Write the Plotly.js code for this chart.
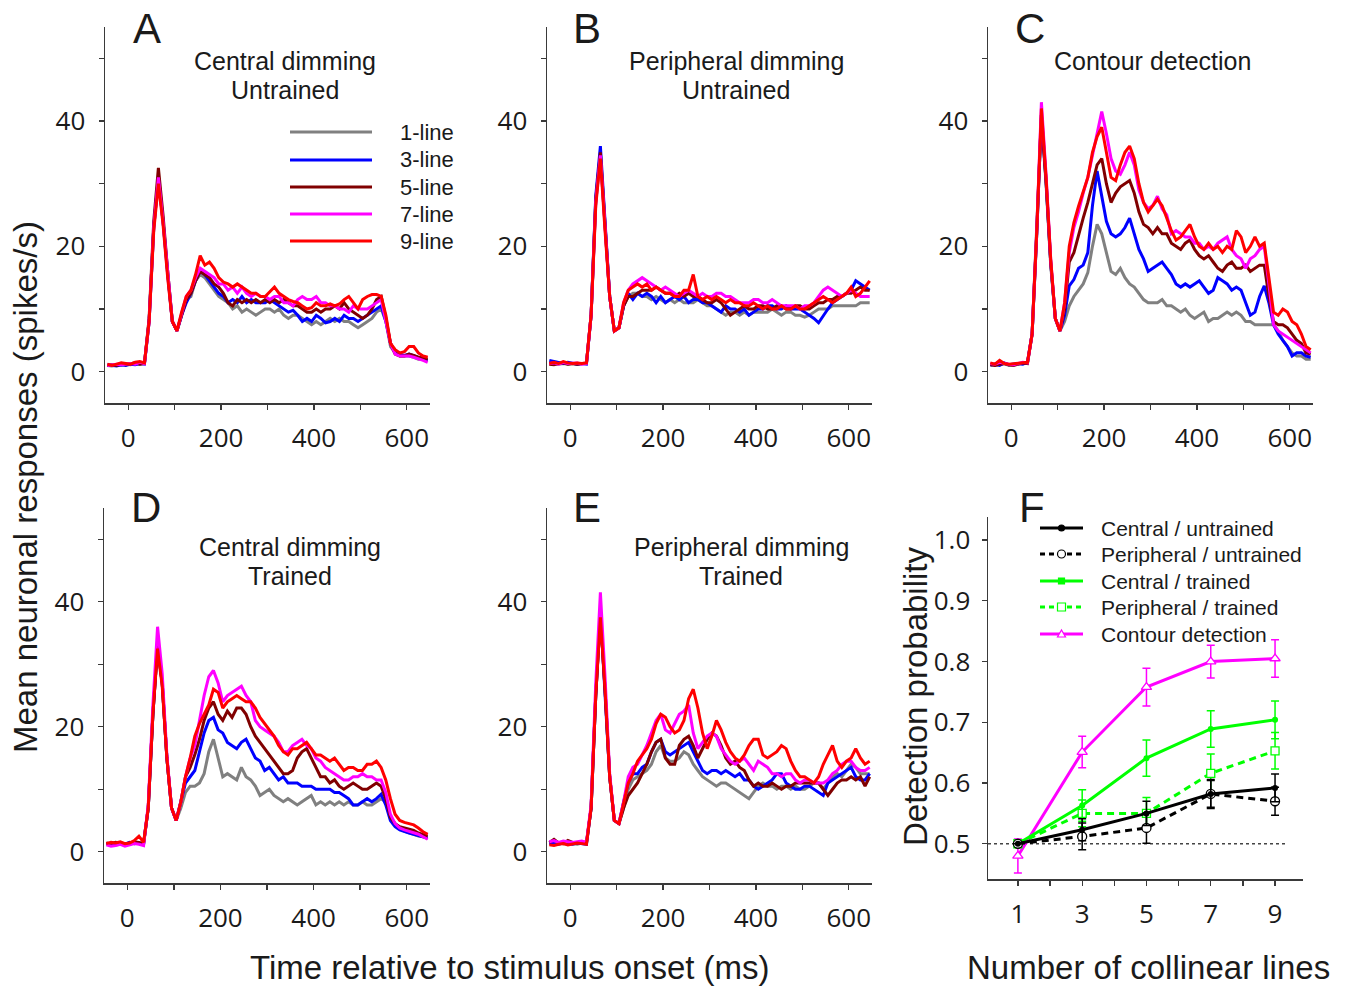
<!DOCTYPE html>
<html><head><meta charset="utf-8">
<script src="https://cdn.plot.ly/plotly-3.0.1.min.js"></script>
<style>html,body{margin:0;padding:0;background:#fff;} #chart{width:1350px;height:987px;}</style>
</head><body><div id="chart"></div>
<script>
// ---------- DATA ----------
const timeMs = [-45,-35,-25,-15,-5,5,15,25,35,45,55,65,75,85,95,105,115,125,135,145,155,165,175,185,195,205,215,225,235,245,255,265,275,285,295,305,315,325,335,345,355,365,375,385,395,405,415,425,435,445,455,465,475,485,495,505,515,525,535,545,555,565,575,585,595,605,615,625,635,645];
const lineLabels = ['1-line','3-line','5-line','7-line','9-line'];

// Panel A: central dimming, untrained
const A_1line = [1.0,0.9,1.1,1.0,1.2,1.1,1.3,1.2,1.4,8,23,31,24,15.5,8,6.5,9,11.5,12,14.5,15.5,15,14,13,12,11.5,11,10,10.5,9.5,10,9.5,9,9.5,10,10,9.5,10,9,8.5,9,9,8.5,8,7.5,8,7.5,8,8.5,8,8.5,8,8,7.5,7,7.5,8,8.5,9.5,10,8,4,3,2.5,2.5,2.5,2.3,2,2,1.8];
const A_3line = [1.1,1.0,0.9,1.1,1.0,1.2,1.1,1.3,1.2,8,23,31,24,15.5,8,6.5,9,11,12.5,14.5,16,15.5,14.5,13.5,12.5,12,11,11.5,11,12,11,11.5,11,11,11,11.5,11,10.5,10,9.5,9.8,9,8,8.5,8,9,8.5,7.8,8,8.5,8,9,8.5,8.5,8,8.5,9,9.5,10,10.5,8,4.5,3,2.8,2.6,2.8,2.5,2.3,2,1.8];
const A_5line = [1.0,1.1,1.0,1.2,1.1,1.3,1.4,1.2,1.3,8.5,24,32.5,25,16,8,6.5,9,11.5,12.5,14.5,16,15.5,15,14,13.5,12.5,11,10.5,11.5,11,11.5,11,11.5,11,11.5,11,11.5,11,11.5,11,10.5,10.5,10,9.5,9.5,10,9.5,10,10,10.5,10,11,10,9.5,9,8.5,9,10,11.5,12,8.5,4.5,2.8,2.5,2.5,2.8,2.6,2.3,2.2,2];
const A_7line = [1.0,1.1,1.2,1.1,1.2,1.3,1.2,1.5,1.3,8,23,31,24,15.5,8,6.5,9.5,12,13,15,16.5,16,15.5,15,14,14,13,13.5,12.5,13.5,12.5,12,12.5,12,12,11.5,12,12,11,11,10.5,11.5,12,11.5,11.5,12,11,11,10.5,10.5,10,10,9.5,10.5,10,10,10,10.5,11,11.5,8,4.5,2.8,2.5,2.5,2.5,2.3,2.1,1.8,1.5];
const A_9line = [1.2,1.0,1.2,1.4,1.3,1.2,1.5,1.6,1.4,8,22.5,30,23.5,15,8,6.5,9.5,12,13,15.5,18.5,17,17.5,16.5,15,14.3,14,13.5,14,13.5,13,12.5,12.5,12,12,12.8,13.5,12.5,12,11.5,11.2,11,10.5,10,10.2,11,10.5,10.5,10.8,10.5,10.8,11.5,12,11,10,11.5,12,12.3,12.3,12,9,4.5,3.5,3,3.2,4,4,3,2.5,2.3];

// Panel B: peripheral dimming, untrained
const B_1line = [1.4,1.3,1.2,1.3,1.2,1.3,1.2,1.3,1.3,9,27,34.5,23,12,6.5,7,10.5,12,12.5,12.5,12,12,11.5,12,11.5,11,11.5,11,11.5,11,11,11,11.5,11,10.5,10.5,10,9.5,9,9.5,9.5,9,9.5,9,9.5,9.5,9.5,9.5,10,9.5,9,9.5,9.5,9,9,8.7,9,9.5,10,10,10,10.5,10.5,10.5,10.5,10.5,10.5,11,11,11];
const B_3line = [1.8,1.6,1.4,1.3,1.5,1.3,1.2,1.3,1.2,9,28,36,24,12,6.5,7,10.5,12.5,11.5,12.5,12,12.5,12,11,12,11,11.5,12,11.5,12,11,11.5,11.5,11,11,10.5,10,9.5,10.5,10,10,9.5,10,9,9.5,10,10,10.5,10.5,10,10,10.5,10,10,10,9.5,9,8.5,7.8,9,10,11,11.5,12,12.5,13,14.5,14,13.5,13];
const B_5line = [1.2,1.1,1.3,1.4,1.2,1.3,1.2,1.3,1.4,9,27.5,35,23.5,12,6.5,7,10.5,12,12,12.5,13,13,13,13.5,13,12.5,12.5,12,12.5,12,12.5,12,12,11.5,11,11,11.5,11,10,9,9.5,10,10.5,10,10,10.5,10.5,10,10,10.5,10.5,10,10,10.5,10.5,10,10,10.5,11,11,11.5,11.5,12,12,12.5,12.5,13,13.5,13,13];
const B_7line = [1.3,1.4,1.2,1.5,1.3,1.3,1.4,1.2,1.3,9,27,34.5,23,12,6.5,7,11,13,14,14.5,15,14.5,14,13.5,13,13.5,13,12.5,12,12.5,13,12.5,12,12.5,12,12,12.5,12.5,12,12,11.5,11,11,11,11.5,11.5,11,11,11.5,11,10.5,10.5,10.5,10.5,10,10.5,10.5,11,12,13,13.5,13,12.5,12,12.5,13,12.5,12,12,12];
const B_9line = [1.3,1.5,1.3,1.6,1.4,1.3,1.4,1.3,1.4,9,26.5,34,22.5,12,6.5,7,11,13,13.5,14,13.5,14,13,13.5,13,12.5,12.5,12,12,13,13,15.5,12,11.5,12,11.5,12,11.5,11,11.5,11,11,10.5,10.5,11,10.5,10,10.5,10,10,10.5,10,10,10.5,10,10,10.5,11,11.5,12,11.5,11,11.5,12,12.5,13.5,12,12.5,13.5,14.5];

// Panel C: contour detection
const C_1line = [1.2,1.0,1.1,1.3,1.0,1.1,1.2,1.3,1.4,6,22,40.5,30,17,8.5,6.5,8,10.5,12,13,14,15.8,20,23.5,22,19,16,15.5,16.5,15,14,13.5,12.5,11.5,11,11,11,11.5,10.5,10.5,10,9.5,10,9,8.5,9,9.5,8,8.5,8.5,9,9.5,9,9.5,9,8,8,7.5,7.5,7.5,7.5,7.5,6.5,5,4,3,2.5,2.5,2,2];
const C_3line = [1.0,1.2,1.0,1.4,1.1,1.2,1.3,1.2,1.5,6,22,41,30.5,17.5,8.5,6.5,9,13.7,14.7,16.5,17,19,26.5,32,28,24,22,21.5,22,23,24.5,22,19.5,18,16,16.5,17,17.5,16.5,15.5,14,13.5,14,13.5,14,14.5,13.5,12.5,13,15,14.5,14,13,13.5,13,11,9,9.5,12,13.7,11,7.5,6,5,4,2.5,3,3,2.5,2.3];
const C_5line = [1.1,1.0,1.2,1.3,1.1,1.0,1.2,1.4,1.3,6,22,41,30.5,17.5,8.5,6.5,10,17.5,19,22,24.5,27,30,33,34,30,27,28.5,29.5,30,30.5,28.5,25.5,23.5,23,22,23,22,22,20.5,20,19.5,20.5,21,19.5,18.5,18,18.5,17.5,16.5,16,17,17.5,16.5,16.5,17,16,16.5,17,17,12,8,7.5,7.5,7,6,5,4.5,3,2.8];
const C_7line = [1.3,1.2,1.5,1.3,1.2,1.1,1.3,1.5,1.4,6,22.5,43,31.5,18,8.5,6.5,11,19,23,25.5,28.5,31,34.5,38,41.5,38,34,32,31.5,33,35,33,29,27,26,26.5,28,26,25,22,22.5,22,21.5,21.5,20.5,20.5,19.5,20,19.5,20.5,21,21.5,19.5,18.5,18,16.5,18,18.5,19.5,20,14,7.5,6.5,6,5.5,5,4.5,4,3.5,3];
const C_9line = [1.4,1.2,1.8,1.3,1.2,1.3,1.4,1.5,1.5,6,22.5,42,31,18,8.5,6.5,11,20,23.8,26.4,28.7,31,35,37.5,39,35,31,30.5,33,35,36,34,30,27,25.5,26.5,27.5,26.5,24.5,22.5,21,21.5,22.5,23.5,21.5,20,19.5,20.5,19.5,20,19,20,19.5,22.5,21.5,19,20,21.5,20,20.5,15,9.5,9,10,9.5,8,7.5,6,4,3.5];

// Panel D: central dimming, trained
const D_1line = [1.2,1.3,1.1,1.2,1.3,1.2,1.4,1.3,1.2,7,22,33,27,15,7,5,7,9.5,10.5,10.5,11,12.5,16,18,15,12,12.5,12,11.5,13.5,12,11.5,10.5,9,9.5,10,9,8.5,8,8.5,8,7.5,8,8.5,9,7.5,8,7.5,8,7.5,8,7.5,8,7.5,7.5,8,7.5,7.5,8,8.5,8,5.5,4.5,3.8,3.3,3,2.8,2.5,2.4,2.2];
const D_3line = [1.3,1.2,1.4,1.3,1.2,1.5,1.3,1.4,1.3,7,22,33,27,15,7,5,8,11,12,13,16,19,21,21.5,19.5,19,17.5,17,16.5,17.5,18,16.5,15,14.5,13,13.5,12.5,11.5,12,11,11,11,10.5,10.5,10.5,10,10,10,10,9.5,9.5,9,8.5,7.5,7.5,8,8.5,8,8.5,9.2,7.5,5,4,3.5,3.2,3,2.8,2.6,2.4,2.2];
const D_5line = [1.4,1.3,1.5,1.4,1.2,1.4,1.6,1.5,1.3,7,22,33,27,15,7,5,8,12,13.5,15.5,18,21,23,24,22,21,22.5,21.5,23,23,22,20,18.5,17.5,16.5,15.5,14.5,13.5,12.5,12.5,13,15,16,16.5,15,13.5,12,12,11,11.5,10.5,10,10.5,11,10.5,10,10,10.5,11,10.5,8.5,5.5,4.5,4,3.8,3.6,3.4,3,2.7,2.5];
const D_7line = [1.1,0.9,1.0,1.2,0.9,1.1,1.3,1.2,1.0,7.5,23.5,36,28.5,15.5,7,5,8,12,15,17,21,25,28,29,27,24,25,25.5,26,26.5,25,24,21,20,19.5,19,18.5,17.5,16,16,17,17.5,18,17,16.5,15,14.5,13.5,13,12.5,12,11.5,11.5,12,12,12.5,12,12,11.5,11.5,9.5,6,4.5,3.8,3.5,3.3,3,2.8,2.4,2];
const D_9line = [1.3,1.5,1.4,1.6,1.3,1.4,1.8,2.5,1.5,7,22,32.5,26.5,15,7,5,8,12,15,18.5,20.5,22,23.5,26,25.5,23,24,24.5,25,24.5,24,24,23,21.5,20.5,19.5,18.5,17,16,15.5,16.5,16.5,17,17.5,16.5,15.5,15.5,15,14.5,15,14,13,13.5,13.5,13,13,14,14,14.5,13.5,11.5,8.5,6,5,4.7,4.5,4.3,3.8,3.2,2.8];

// Panel E: peripheral dimming, trained
const E_1line = [1.3,1.2,1.4,1.3,1.2,1.3,1.2,1.4,1.3,7,25,38,26,12,5,4.5,7,10,11.5,12,12.5,13,14,16,17,15,14.5,14.5,15,16,15.5,14,13,12,11.5,11,10.5,11,11,10.5,10,9.5,9,8.5,9.5,10.5,11,10.5,10.5,10,10.5,10.5,10,10.5,10,10,10.5,11,11,10,11,12,12.5,12,13,14,13.5,12.5,12.5,12.5];
const E_3line = [1.4,1.3,1.2,1.4,1.3,1.2,1.4,1.3,1.2,7,25,38.5,26,12,5,4.5,8,11,12.5,12.5,13.5,14,16,17.5,18,16,15.5,16,16.5,17,17.5,16,14.5,13,12.5,13,13,12.5,13,12.5,12,12.5,11.5,11.5,10.5,10,10.5,11,11.5,12.5,12.5,11,10.5,10,10,10.5,10.5,10,9.5,9,11,11.5,12,12.5,13,13.5,12,11.5,11.5,12.5];
const E_5line = [1.5,2.0,1.4,1.3,1.8,1.5,1.4,1.6,1.5,7,25,38,26,12,5,4.5,7,9,10,11,12.5,14,16,17.5,18,15,14,14,17,18,18.5,17,15,16.5,18,19,18.5,17,15,14,14.5,13.5,13,11.5,10.5,11,10.5,10.5,11,10.5,10,10.5,10.5,11,11,11,11,11,11,10,9,10,11,11.5,11.5,12,11.5,12,10.5,12];
const E_7line = [1.6,1.8,1.5,1.7,1.6,1.5,1.6,1.7,1.5,7.5,27,41.5,28,12.5,5,4.5,8,12,13.5,14,15.5,17,19,21,22,19.5,19,20.5,22,22.5,23.5,19,16.5,17.5,18.5,19,18.5,16.5,15.5,14.5,14,14.5,15,14,13,14.5,14,13.5,12.5,12.5,12,12.5,12.5,11.5,11,11.5,11.5,11,11,11,11.5,12.5,13,14,14.5,14.5,13.5,13,13,13.5];
const E_9line = [1.1,1.0,1.2,1.3,1.1,1.2,1.4,1.3,1.2,7,25,37.5,26,12,5,4.5,8,11,12.5,14.5,15.5,16.5,18,20.5,22,21.5,20,19,19.5,21,24.5,26,23,19,16.5,18.5,21,19.5,17.5,16,15,14.5,15.5,17,18,18,15.5,15,15.5,16,17,16.5,14.5,13,12,12,11.5,11,12,14,15.5,17,14.5,13.5,14.5,15,16.5,15,14,14.5];

// Panel F: detection probability vs number of collinear lines
const collinearLines = [1,3,5,7,9];
const centralUntrained = [0.500,0.523,0.550,0.582,0.592];
const centralUntrainedErr = [0,0.018,0.020,0.024,0.023];
const peripheralUntrained = [0.500,0.512,0.526,0.582,0.570];
const peripheralUntrainedErr = [0,0.022,0.025,0.022,0.023];
const centralTrained = [0.500,0.563,0.641,0.689,0.704];
const centralTrainedErr = [0,0.026,0.030,0.030,0.031];
const peripheralTrained = [0.500,0.550,0.550,0.616,0.653];
const peripheralTrainedErr = [0,0.022,0.026,0.032,0.030];
const contourDetection = [0.480,0.651,0.758,0.800,0.805];
const contourDetectionErr = [0.028,0.026,0.031,0.027,0.031];
const chanceLevel = 0.5;
const fLegendLabels = ['Central / untrained','Peripheral / untrained','Central / trained','Peripheral / trained','Contour detection'];

// ---------- STYLE ----------
const W = 1350, H = 987;
const fx = p => p / W;
const fy = p => 1 - p / H;
const lineColors = ['#808080','#0000ff','#800000','#ff00ff','#ff0000'];
const GREEN = '#00ff00', MAG = '#ff00ff';
const AX = '#3a3a3a';
const TICKFONT = {family:'Open Sans, Liberation Sans, sans-serif', size:26, color:'#1a1a1a'};
const TXT = 'Liberation Sans, Arial, sans-serif';

const panels = [
  {key:'', series:[A_1line,A_3line,A_5line,A_7line,A_9line], x:[105,430], y:[27,403]},
  {key:'2', series:[B_1line,B_3line,B_5line,B_7line,B_9line], x:[547,872], y:[27,403]},
  {key:'3', series:[C_1line,C_3line,C_5line,C_7line,C_9line], x:[988,1313], y:[27,403]},
  {key:'4', series:[D_1line,D_3line,D_5line,D_7line,D_9line], x:[104,430], y:[508,883]},
  {key:'5', series:[E_1line,E_3line,E_5line,E_7line,E_9line], x:[547,872], y:[508,883]},
];

const traces = [];
const layout = {
  width: W, height: H, margin:{l:0,r:0,t:0,b:0},
  paper_bgcolor:'#fff', plot_bgcolor:'#fff', showlegend:false,
  annotations: [], shapes: []
};

function baseAxis(extra){
  return Object.assign({
    showline:true, linecolor:AX, linewidth:1.5, showgrid:false, zeroline:false,
    ticks:'outside', ticklen:5, tickwidth:1.3, tickcolor:AX, tickfont:TICKFONT,
    fixedrange:true
  }, extra);
}

panels.forEach(p => {
  const xa = 'x' + p.key, ya = 'y' + p.key;
  p.series.forEach((s, i) => {
    traces.push({x: timeMs, y: s, type:'scatter', mode:'lines', name: lineLabels[i],
      line:{color: lineColors[i], width: 3}, xaxis: xa, yaxis: ya, hoverinfo:'skip'});
  });
  layout['xaxis' + p.key] = baseAxis({domain:[fx(p.x[0]), fx(p.x[1])], anchor: ya, range:[-50,650],
    tick0:0, dtick:200, ticklabelstandoff:6,
    minor:{dtick:100, ticks:'outside', ticklen:5, tickwidth:1.3, tickcolor:AX, showgrid:false}});
  layout['yaxis' + p.key] = baseAxis({domain:[fy(p.y[1]), fy(p.y[0])], anchor: xa, range:[-5,55],
    tick0:0, dtick:20, ticklabelstandoff:8,
    minor:{dtick:10, ticks:'outside', ticklen:5, tickwidth:1.3, tickcolor:AX, showgrid:false}});
});

// Panel F
layout.xaxis6 = baseAxis({domain:[fx(988), fx(1303)], anchor:'y6', range:[0.07, 9.87], tick0:1, dtick:2,
  ticklabelstandoff:6, minor:{dtick:1, ticks:'outside', ticklen:5, tickwidth:1.3, tickcolor:AX, showgrid:false}});
layout.yaxis6 = baseAxis({domain:[fy(879), fy(517)], anchor:'x6', range:[0.442, 1.038], tick0:0.5, dtick:0.1,
  tickformat:'.1f', ticklabelstandoff:6});

function errBar(arr, color){ return {type:'data', array:arr, visible:true, color:color, thickness:1.5, width:4}; }
const dashPat = '7px,5px';
traces.push({x:collinearLines, y:contourDetection, error_y:errBar(contourDetectionErr, MAG), mode:'lines+markers',
  line:{color:MAG, width:3}, marker:{symbol:'triangle-up', size:9, color:'#fff', line:{color:MAG, width:1.3}},
  xaxis:'x6', yaxis:'y6', name:fLegendLabels[4], hoverinfo:'skip'});
traces.push({x:collinearLines, y:peripheralTrained, error_y:errBar(peripheralTrainedErr, GREEN), mode:'lines+markers',
  line:{color:GREEN, width:3, dash:dashPat}, marker:{symbol:'square', size:8, color:'#fff', line:{color:GREEN, width:1.3}},
  xaxis:'x6', yaxis:'y6', name:fLegendLabels[3], hoverinfo:'skip'});
traces.push({x:collinearLines, y:centralTrained, error_y:errBar(centralTrainedErr, GREEN), mode:'lines+markers',
  line:{color:GREEN, width:3}, marker:{symbol:'circle', size:6, color:GREEN},
  xaxis:'x6', yaxis:'y6', name:fLegendLabels[2], hoverinfo:'skip'});
traces.push({x:collinearLines, y:peripheralUntrained, error_y:errBar(peripheralUntrainedErr, '#000'), mode:'lines+markers',
  line:{color:'#000', width:3, dash:dashPat}, marker:{symbol:'circle', size:9, color:'#fff', line:{color:'#000', width:1.3}},
  xaxis:'x6', yaxis:'y6', name:fLegendLabels[1], hoverinfo:'skip'});
traces.push({x:collinearLines, y:centralUntrained, error_y:errBar(centralUntrainedErr, '#000'), mode:'lines+markers',
  line:{color:'#000', width:3}, marker:{symbol:'circle', size:6, color:'#000'},
  xaxis:'x6', yaxis:'y6', name:fLegendLabels[0], hoverinfo:'skip'});

// chance level dotted line
layout.shapes.push({type:'line', xref:'x6', yref:'y6', x0:0.07, x1:9.35, y0:chanceLevel, y1:chanceLevel,
  line:{color:'#444', width:1.3, dash:'dot'}, layer:'below'});

// ---------- TEXT ----------
function ann(text, px, py, size, opts){
  layout.annotations.push(Object.assign({text:text, xref:'paper', yref:'paper', x:fx(px), y:fy(py),
    xanchor:'center', yanchor:'middle', showarrow:false, font:{family:TXT, size:size, color:'#1a1a1a'}}, opts||{}));
}
// panel letters
[['A',147,29],['B',587,29],['C',1030,29],['D',146,507],['E',587,507],['F',1032,507]].forEach(l => ann(l[0], l[1], l[2], 42));
// panel titles
ann('Central dimming', 285, 61, 25); ann('Untrained', 285, 90, 25);
ann('Peripheral dimming', 736, 61, 25); ann('Untrained', 736, 90, 25);
ann('Contour detection', 1152, 61, 25);
ann('Central dimming', 290, 547, 25); ann('Trained', 290, 576, 25);
ann('Peripheral dimming', 741, 547, 25); ann('Trained', 741, 576, 25);
// axis titles
ann('Mean neuronal responses (spikes/s)', 26, 487, 33, {textangle:-90});
ann('Time relative to stimulus onset (ms)', 510, 967, 33);
ann('Number of collinear lines', 1148, 967, 33);
ann('Detection probability', 915, 697, 33, {textangle:-90});

// Legend in panel A
const legA_y = [132,160,187,214,241];
lineLabels.forEach((lab, i) => {
  layout.shapes.push({type:'line', xref:'paper', yref:'paper', x0:fx(290), x1:fx(372), y0:fy(legA_y[i]), y1:fy(legA_y[i]),
    line:{color:lineColors[i], width:3}});
  ann(lab, 398, legA_y[i], 22, {xanchor:'left'});
});

// Legend in panel F
const legF_y = [528,554,581,607,634];
const legF = [
  {color:'#000', dash:'solid', m:'circle', fill:'#000', r:3},
  {color:'#000', dash:'5px,4px', m:'circle', fill:'#fff', r:4},
  {color:GREEN, dash:'solid', m:'rect', fill:GREEN, r:3},
  {color:GREEN, dash:'5px,4px', m:'rect', fill:'#fff', r:4},
  {color:MAG, dash:'solid', m:'tri', fill:'#fff', r:4}
];
legF.forEach((s, i) => {
  const yy = fy(legF_y[i]);
  layout.shapes.push({type:'line', xref:'paper', yref:'paper', x0:fx(1040), x1:fx(1083), y0:yy, y1:yy,
    line:{color:s.color, width:3, dash:s.dash}});
  if (s.m === 'tri') {
    layout.shapes.push({type:'path', xref:'paper', yref:'paper', xsizemode:'pixel', ysizemode:'pixel',
      xanchor:fx(1061.5), yanchor:yy, path:'M-4,-3L4,-3L0,4Z', fillcolor:s.fill, line:{color:s.color, width:1.2}});
  } else {
    layout.shapes.push({type:s.m, xref:'paper', yref:'paper', xsizemode:'pixel', ysizemode:'pixel',
      xanchor:fx(1061.5), yanchor:yy, x0:-s.r, x1:s.r, y0:-s.r, y1:s.r, fillcolor:s.fill, line:{color:s.color, width:1.2}});
  }
  ann(fLegendLabels[i], 1099, legF_y[i], 21, {xanchor:'left'});
});

Plotly.newPlot('chart', traces, layout, {staticPlot:true, displayModeBar:false});
</script>
</body></html>
